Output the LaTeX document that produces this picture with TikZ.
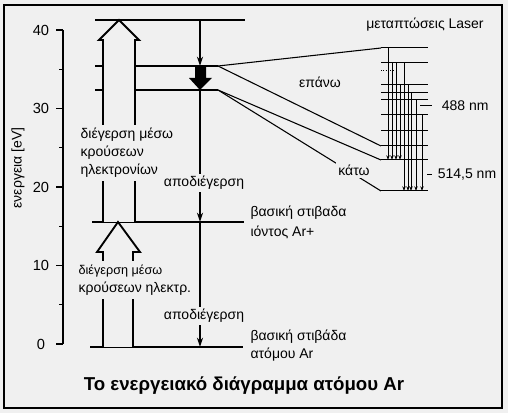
\documentclass[tikz,border=0pt]{standalone}
\usepackage{fontspec}
\setmainfont{Liberation Sans}
\usetikzlibrary{arrows.meta}
\definecolor{paper}{RGB}{240,240,240}

\begin{document}
\begin{tikzpicture}[x=0.75pt, y=-0.75pt, >={Stealth[length=7pt,width=4.5pt]},
  every node/.style={font=\fontsize{10.5}{13.5}\selectfont, inner sep=1pt},
  level/.style={line width=1.4pt},
  hollow/.style={draw, line width=1.4pt, fill=paper},
  gap/.style={fill=paper, align=left, inner sep=2.5pt},
  laser/.style={line width=0.75pt},
  link/.style={line width=0.8pt}]

  % Tło i ramka
  \fill[paper] (0,0) rectangle (508,413);
  \draw[line width=1.6pt] (4,5) rectangle (502,408);
  \useasboundingbox (0,0) rectangle (508,413);

  % Oś energii
  \draw[line width=1.6pt] (63,30) -- (63,344);
  \foreach \e in {0,10,20,30,40} {
    \draw[line width=1pt] (56,{344-7.85*\e}) -- (63,{344-7.85*\e});
    \node[font=\fontsize{11}{13}\selectfont] (tick\e) at (41,{344-7.85*\e}) {\e};
  }
  \foreach \e in {5,15,25,35}
    \draw[line width=1pt] (59,{344-7.85*\e}) -- (63,{344-7.85*\e});
  \node[rotate=90] (axis) at (18,168) {ενεργεια [eV]};

  % Poziomy energetyczne
  \draw[level] (95,20) -- (245,20);
  \draw[level] (95,66) -- (218,66) coordinate (up);
  \draw[level] (95,90) -- (218,90) coordinate (lo);
  \draw[level] (92,222) -- (244,222);
  \draw[level] (90,347) -- (243,347);
  \coordinate (d4) at (200,20);
  \coordinate (d3) at (200,66);
  \coordinate (d2) at (200,90);
  \coordinate (d1) at (200,222);
  \coordinate (d0) at (200,347);

  % Wzbudzenie zderzeniami
  \draw[hollow] (103,222) -- (103,40) -- (99,40) -- (119,20) -- (139,40) -- (135,40) -- (135,222);
  \draw[hollow] (103,347) -- (103,252) -- (97,252) -- (118,222) -- (140,252) -- (133,252) -- (133,347);
  \node[gap, anchor=west, font=\fontsize{10.5}{13.5}\selectfont] (exc1) at (77,153)
    {διέγερση μέσω\\κρούσεων\\ηλεκτρονίων};
  \node[gap, anchor=west, inner ysep=3pt] (exc2) at (75,280)
    {{\fontsize{9.5}{15}\selectfont διέγερση μέσω}\\κρούσεων ηλεκτρ.};

  % Przejścia w dół
  \draw[->, line width=1.1pt] (d4) -- (d3);
  \fill (195,66) -- (195,78) -- (189,78) -- (200,90) -- (212,78) -- (206,78) -- (206,66) -- cycle;
  \draw[->, line width=1.1pt] (d2) -- (d1);
  \draw[->, line width=1.1pt] (d1) -- (d0);
  \node[fill=paper, inner sep=2pt] (deex1) at (204,183) {αποδιέγερση};
  \node[fill=paper, inner sep=2pt] (deex2) at (204,316) {αποδιέγερση};

  % Opisy poziomów
  \node[anchor=west, align=left, font=\fontsize{10.5}{15}\selectfont] (ion) at (249,222)
    {βασική στιβαδα\\ιόντος Ar+};
  \node[anchor=west, align=left] (atom) at (249,346)
    {βασική στιβάδα\\ατόμου Ar};

  % Przejścia laserowe
  \node (lasertitle) at (425,25) {μεταπτώσεις Laser};
  \foreach \y in {48,63,85,93,100,115,131,146,160,191}
    \draw[laser] (381,\y) coordinate (ls\y) -- (428,\y);
  \draw[laser, densely dotted] (381,71) -- (393,71);
  \foreach \x/\a/\b in {388/48/160, 392/63/160, 396/63/160, 400/85/160,
                        404/63/191, 408/85/191, 411/93/191, 416/100/191, 422/115/191}
    \draw[laser, -{Stealth[length=3.5pt,width=2.5pt]}] (\x,\a) -- (\x,\b);

  \draw[link] (up) -- (ls48);
  \draw[link] (up) -- (ls146);
  \draw[link] (lo) -- (ls160);
  \draw[link] (lo) -- (ls191);
  \node (upper) at (320,82) {επάνω};
  \node[fill=paper, inner sep=2pt] (lower) at (354,170) {κάτω};

  \draw[laser] (420,106) -- (432,106) node[right=6pt] (blue) {488 nm};
  \draw[laser] (427,175) -- (432,175) node[right=3pt] (green) {514,5 nm};

  % Tytuł
  \node[font=\bfseries\fontsize{14}{16}\selectfont] (title) at (244,386)
    {Το ενεργειακό διάγραμμα ατόμου Ar};
\end{tikzpicture}
\end{document}
